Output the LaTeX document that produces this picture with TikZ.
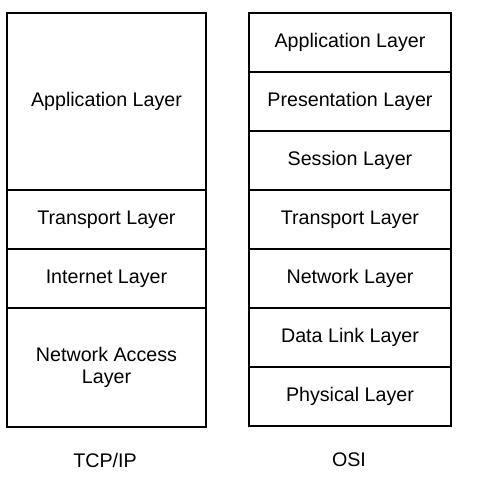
\documentclass[tikz,border=0pt]{standalone}
\usepackage{fontspec}
\setmainfont{Liberation Sans}
\usetikzlibrary{positioning}

\begin{document}
\begin{tikzpicture}[x=0.02cm, y=-0.02cm, line width=1.1pt,
    layer/.style={draw, rectangle, outer sep=0pt, inner sep=0pt, align=center,
      font=\fontsize{11.2}{12.6}\selectfont, anchor=north west},
    tcp/.style={layer, minimum width=3.98cm},
    osi/.style={layer, minimum width=4.04cm, minimum height=1.18cm}]
  \useasboundingbox (0,0) rectangle (483,480);

  % TCP/IP stack
  \node[tcp, minimum height=3.54cm] at (7,13) (tapp) {Application Layer};
  \node[tcp, minimum height=1.18cm, below=0pt of tapp] (ttrans) {Transport Layer};
  \node[tcp, minimum height=1.18cm, below=0pt of ttrans] (tinet) {Internet Layer};
  \node[tcp, minimum height=2.38cm, below=0pt of tinet] (tnet) {Network Access\\Layer};

  % OSI stack
  \node[osi] at (249,13) (oapp) {Application Layer};
  \node[osi, below=0pt of oapp] (opres) {Presentation Layer};
  \node[osi, below=0pt of opres] (osess) {Session Layer};
  \node[osi, below=0pt of osess] (otrans) {Transport Layer};
  \node[osi, below=0pt of otrans] (onet) {Network Layer};
  \node[osi, below=0pt of onet] (olink) {Data Link Layer};
  \node[osi, below=0pt of olink] (ophys) {Physical Layer};

  \node[font=\fontsize{11.2}{12.6}\selectfont] at (105,460) (tcplabel) {TCP/IP};
  \node[font=\fontsize{11.2}{12.6}\selectfont] at (349,460) (osilabel) {OSI};
\end{tikzpicture}
\end{document}
